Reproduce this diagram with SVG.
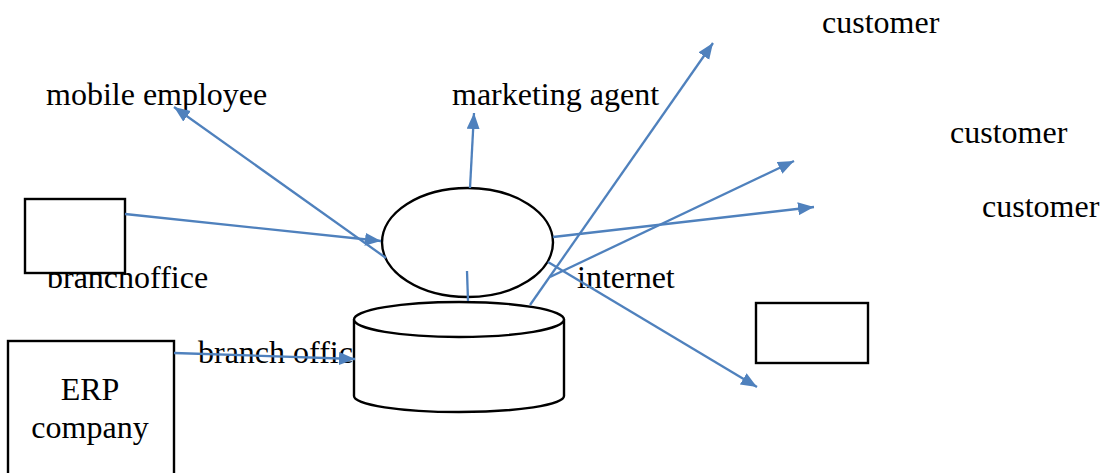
<svg xmlns="http://www.w3.org/2000/svg" width="1100" height="473" viewBox="0 0 1100 473">
<style>
.t{font-family:"Liberation Serif","Times New Roman",serif;font-size:32px;fill:#000}
.n{fill:#fff;stroke:#000;stroke-width:2.4}
.c{stroke:#4f81bd;stroke-width:2.3;fill:none}
.a{marker-end:url(#ah)}
</style>
<defs>
<marker id="ah" markerUnits="userSpaceOnUse" markerWidth="17" markerHeight="14" refX="16" refY="6.5" orient="auto">
<path d="M0,0 L16,6.5 L0,13 z" fill="#4f81bd"/>
</marker>
</defs>
<rect width="1100" height="473" fill="#fff"/>
<g id="labels">
<text class="t" x="46" y="105">mobile employee</text>
<text class="t" x="452" y="105">marketing agent</text>
<text class="t" x="822" y="33">customer</text>
<text class="t" x="950" y="143">customer</text>
<text class="t" x="982" y="217">customer</text>
<text class="t" x="47" y="288">branchoffice</text>
<text class="t" x="577" y="288">internet</text>
<text class="t" x="198" y="363">branch office</text>
</g>
<g id="branch-office-box">
<rect class="n" x="25" y="199" width="100" height="74"/>
</g>
<g id="erp-company">
<rect class="n" x="8" y="341" width="166" height="150"/>
<text class="t" x="90" y="400" text-anchor="middle">ERP</text>
<text class="t" x="90" y="438" text-anchor="middle">company</text>
</g>
<g id="server">
<ellipse class="n" cx="467.5" cy="242.5" rx="85.5" ry="54.5"/>
</g>
<g id="database">
<path class="n" d="M354,319.5 L354,396 A105,16 0 0 0 564,396 L564,319.5"/>
<ellipse class="n" cx="459" cy="319.5" rx="105" ry="17.5"/>
</g>
<g id="right-box">
<rect class="n" x="756" y="303" width="112" height="60"/>
</g>
<g id="connectors">
<line class="c a" x1="125" y1="214" x2="381" y2="241"/>
<line class="c a" x1="386" y1="258" x2="174" y2="107"/>
<line class="c a" x1="470" y1="188" x2="474" y2="113"/>
<line class="c" x1="467" y1="271" x2="468" y2="301"/>
<line class="c a" x1="530" y1="305" x2="713" y2="43"/>
<line class="c a" x1="553" y1="237" x2="814" y2="207"/>
<line class="c a" x1="550" y1="277" x2="794" y2="161"/>
<line class="c a" x1="548" y1="262" x2="757" y2="387"/>
<line class="c a" x1="174" y1="353" x2="355" y2="359"/>
</g>
</svg>
